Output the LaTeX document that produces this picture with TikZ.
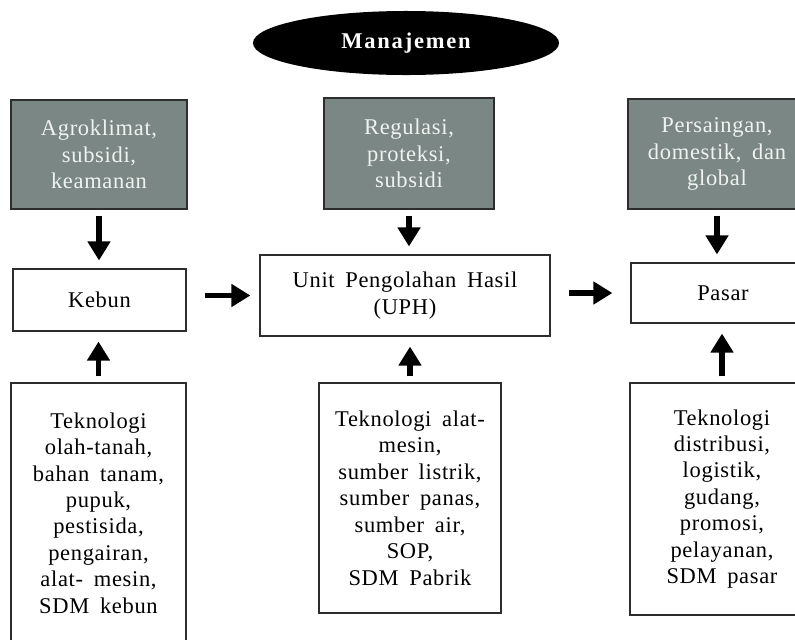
\documentclass[tikz,border=0pt]{standalone}
\usepackage{fontspec}
\setmainfont{Liberation Serif}[LetterSpace=3, WordSpace=1.7]
\newfontfamily\spacedserif[LetterSpace=8]{Liberation Serif}
\usetikzlibrary{shapes, arrows.meta}
\definecolor{factorgray}{RGB}{122,135,132}
\definecolor{factortext}{RGB}{240,242,240}
\definecolor{edgegray}{RGB}{45,45,45}
\tikzstyle{manage} = [ellipse, fill=black, text=white, minimum width=7.65cm, minimum height=1.6cm, inner sep=0pt, font=\spacedserif\bfseries\fontsize{16}{18.8}\selectfont]
\tikzstyle{factor} = [rectangle, draw=edgegray, line width=0.8pt, fill=factorgray, text=factortext, text centered]
\tikzstyle{unit} = [rectangle, draw=edgegray, line width=0.8pt, fill=white, text centered]
\tikzstyle{tech} = [rectangle, draw=edgegray, line width=0.8pt, fill=white, text centered]
\tikzstyle{arrow} = [line width=4.2pt, -{Triangle[length=13.5pt, width=15.6pt]}, shorten <=0.15cm, shorten >=0.2cm]
\tikzstyle{sidearrow} = [arrow, shorten <=0.46cm]
\tikzstyle{uparrow} = [arrow, shorten >=0.25cm]
\begin{document}
\begin{tikzpicture}[x=0.025cm, y=-0.025cm, align=center, font=\fontsize{16}{18.8}\selectfont]
    \clip (0,0) rectangle (795,639);
    \node (manajemen) [manage] at (406,43) {Manajemen};

    \node (agro) [factor, minimum width=4.4cm, minimum height=2.725cm] at (99,154.5) {Agroklimat,\\ subsidi,\\ keamanan};
    \node (regulasi) [factor, minimum width=4.25cm, minimum height=2.775cm] at (409,153.5) {Regulasi,\\ proteksi,\\ subsidi};
    \node (saing) [factor, minimum width=4.45cm, minimum height=2.75cm] at (717,154) {Persaingan,\\ domestik, dan\\ global};

    \node (kebun) [unit, minimum width=4.325cm, minimum height=1.55cm] at (99.5,300) {Kebun};
    \node (uph) [unit, minimum width=7.25cm, minimum height=2.025cm] at (405,295.5) {Unit Pengolahan Hasil\\ (UPH)};
    \node (pasar) [unit, minimum width=4.6cm, minimum height=1.5cm] at (723,293) {Pasar};

    \node (tekkebun) [tech, minimum width=4.375cm, minimum height=6.5cm] at (98.5,513) {Teknologi\\ olah-tanah,\\ bahan tanam,\\ pupuk,\\ pestisida,\\ pengairan,\\ alat- mesin,\\ SDM kebun};
    \node (tekuph) [tech, minimum width=4.55cm, minimum height=5.75cm] at (410,498) {Teknologi alat-\\ mesin,\\ sumber listrik,\\ sumber panas,\\ sumber air,\\ SOP,\\ SDM Pabrik};
    \node (tekpasar) [tech, minimum width=4.6cm, minimum height=5.8cm] at (722,499) {Teknologi\\ distribusi,\\ logistik,\\ gudang,\\ promosi,\\ pelayanan,\\ SDM pasar};

    \draw [arrow] (agro.south) -- (agro.south |- kebun.north);
    \draw [arrow] (regulasi.south) -- (regulasi.south |- uph.north);
    \draw [arrow] (saing.south) -- (saing.south |- pasar.north);
    \draw [sidearrow, shorten >=0.225cm] (uph.west -| kebun.east) -- (uph.west);
    \draw [sidearrow, shorten >=0.45cm] (pasar.west -| uph.east) -- (pasar.west);
    \draw [uparrow] (tekkebun.north) -- (tekkebun.north |- kebun.south);
    \draw [uparrow] (tekuph.north) -- (tekuph.north |- uph.south);
    \draw [uparrow] (tekpasar.north) -- (tekpasar.north |- pasar.south);
  \end{tikzpicture}
\end{document}
